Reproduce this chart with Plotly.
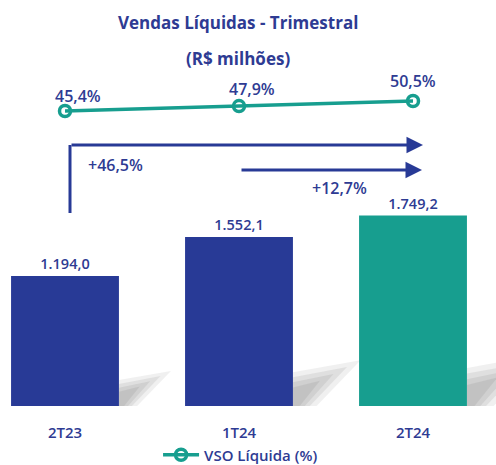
import plotly.graph_objects as go

categories = ["2T23", "1T24", "2T24"]
vendas = [1194.0, 1552.1, 1749.2]
vendas_labels = ["1.194,0", "1.552,1", "1.749,2"]
vso = [45.4, 47.9, 50.5]
vso_labels = ["45,4%", "47,9%", "50,5%"]
growth_labels = ["+46,5%", "+12,7%"]

BLUE = "#283A96"
TEAL = "#179E8F"
TXT = "#2E3B93"
FONT = "Open Sans"

xs = list(range(len(categories)))
bar_colors = [BLUE, BLUE, TEAL]

def f(size):
    return dict(color=TXT, size=size, family=FONT, weight=600)

PX_PER_X = 174.0
PX_PER_Y = 0.1089

fig = go.Figure()

# soft shadows (decorative, scaled from each bar)
bw = 0.62
shapes = []
for i, v in zip(xs, vendas):
    x0 = i + bw / 2
    hb = v * PX_PER_Y  # bar height in px
    layers = [
        (0.20, 0.27, 0.40, 0.14, 0.10),
        (0.17, 0.23, 0.32, 0.10, 0.12),
        (0.14, 0.19, 0.24, 0.07, 0.13),
        (0.11, 0.15, 0.16, 0.04, 0.14),
    ]
    for (hl, ht, wt, wb, op) in layers:
        xt = x0 + wt * hb / PX_PER_X
        xb = x0 + wb * hb / PX_PER_X
        path = f"M {x0},0 L {x0},{hl*v} L {xt},{ht*v} L {xb},0 Z"
        shapes.append(dict(type="path", path=path, xref="x", yref="y",
                           fillcolor=f"rgba(110,110,110,{op})", line=dict(width=0), layer="below"))

fig.add_trace(go.Bar(x=xs, y=vendas, width=bw, marker=dict(color=bar_colors, line=dict(width=0)),
                     text=vendas_labels, textposition="outside", cliponaxis=False,
                     textfont=f(14.5), showlegend=False, hoverinfo="skip"))

fig.add_trace(go.Scatter(x=xs, y=vso, yaxis="y2", mode="lines+markers",
                         name="VSO Líquida (%)",
                         line=dict(color=TEAL, width=3.5),
                         marker=dict(symbol="circle-open", size=11, color=TEAL, line=dict(width=3.5, color=TEAL)),
                         hoverinfo="skip"))

annotations = []
label_shift = [(13, 15), (13, 17), (0, 20)]
for i, (v, t) in enumerate(zip(vso, vso_labels)):
    annotations.append(dict(x=xs[i], y=v, yref="y2", xref="x", text=t, showarrow=False,
                            xanchor="center", yanchor="middle",
                            xshift=label_shift[i][0], yshift=label_shift[i][1], font=f(16)))

H = 376.0
def py(pix):
    return (406 - pix) / H
def px(pix):
    return (pix - 65) / PX_PER_X

# growth arrows
shapes.append(dict(type="line", xref="x", yref="paper", x0=px(70), x1=px(70), y0=py(213), y1=py(145),
                   line=dict(color=BLUE, width=3)))
annotations.append(dict(xref="x", yref="y domain", axref="x", ayref="y domain",
                        x=px(423), y=py(145), ax=px(70), ay=py(145), showarrow=True,
                        arrowhead=2, arrowsize=1.1, arrowwidth=3, arrowcolor=BLUE, text=""))
annotations.append(dict(xref="x", yref="y domain", axref="x", ayref="y domain",
                        x=px(422), y=py(170), ax=px(240), ay=py(170), showarrow=True,
                        arrowhead=2, arrowsize=1.1, arrowwidth=3, arrowcolor=BLUE, text=""))
annotations.append(dict(xref="x", yref="paper", x=px(115), y=py(165), text=growth_labels[0],
                        xanchor="center", yanchor="middle", showarrow=False, font=f(16)))
annotations.append(dict(xref="x", yref="paper", x=px(339), y=py(188), text=growth_labels[1],
                        xanchor="center", yanchor="middle", showarrow=False, font=f(16)))

# title
annotations.append(dict(xref="paper", yref="paper", x=238/496, y=py(22),
                        xanchor="center", yanchor="middle",
                        text="<b>Vendas Líquidas - Trimestral</b>", showarrow=False,
                        font=dict(color=TXT, size=17, family=FONT)))
annotations.append(dict(xref="paper", yref="paper", x=238/496, y=py(58),
                        xanchor="center", yanchor="middle",
                        text="<b>(R$ milhões)</b>", showarrow=False,
                        font=dict(color=TXT, size=17, family=FONT)))

fig.update_layout(
    width=496, height=465,
    margin=dict(l=0, r=0, t=30, b=59, autoexpand=False),
    plot_bgcolor="white", paper_bgcolor="white",
    xaxis=dict(range=[-65/PX_PER_X, (496-65)/PX_PER_X], tickvals=xs, ticktext=categories,
               showgrid=False, zeroline=False, showline=False, ticks="",
               ticklabelstandoff=16, automargin=False, tickfont=f(15)),
    yaxis=dict(range=[0, 376/PX_PER_Y], visible=False),
    yaxis2=dict(overlaying="y", range=[45.4 - 295/1.96, 45.4 + 81/1.96], visible=False),
    legend=dict(orientation="h", x=0.485, xanchor="center", y=py(455), yanchor="middle",
                font=f(15), itemwidth=36),
    shapes=shapes, annotations=annotations,
)

fig.write_html("out.html", config={"displayModeBar": False},
               post_script="document.body.style.margin='0';document.body.style.overflow='hidden';")
